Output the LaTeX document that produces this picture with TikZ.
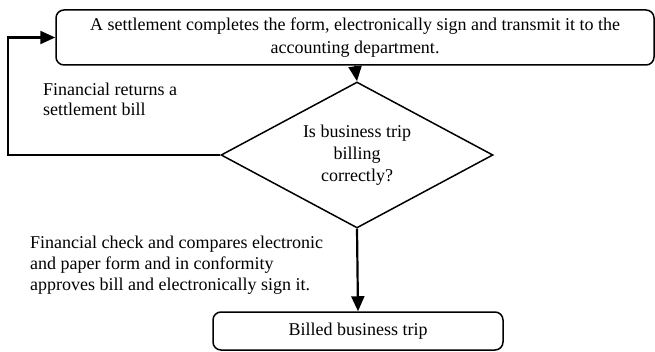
\documentclass[tikz,border=0pt]{standalone}
\usepackage{fontspec}
\setmainfont{Liberation Serif}
\usetikzlibrary{shapes.geometric,arrows.meta}
\tikzset{
  stepbox/.style={draw,line width=1.5pt,rounded corners=8pt,align=center,inner sep=0pt},
  decision/.style={draw,diamond,aspect=1.86,line width=1.5pt,align=center,inner sep=0pt,
    minimum width=272pt,minimum height=146pt},
  flow/.style={line width=2.2pt,-{Triangle[length=15pt,width=13pt]}},
  note/.style={align=left,inner sep=0pt,anchor=base west}
}
\begin{document}
\begin{tikzpicture}[x=1pt,y=-1pt,font=\fontsize{18}{22}\selectfont]
  \useasboundingbox (0,0) rectangle (655,352);
  \node[stepbox,minimum width=598pt,minimum height=55pt,font=\fontsize{18}{23}\selectfont] (settle) at (355,37.5)
    {A settlement completes the form, electronically sign and transmit it to the\\accounting department.};
  \node[decision] (check) at (357,155) {Is business trip\\billing\\correctly?};
  \node[stepbox,minimum width=290pt,minimum height=38pt] (billed) at (358,331) {Billed business trip};
  \coordinate (loop) at (8,155);
  \draw[flow] (settle.south) -- (check.north);
  \draw[flow] (check.west) -- (loop) |- (settle.west);
  \draw[flow] (check.south) -- (billed.north);
  \node[note,font=\fontsize{18}{20}\selectfont] (returns) at (43,116) {Financial returns a\\settlement bill};
  \node[note,font=\fontsize{18}{21}\selectfont] (approves) at (30,290.5)
    {Financial check and compares electronic\\and paper form and in conformity\\approves bill and electronically sign it.};
\end{tikzpicture}
\end{document}
